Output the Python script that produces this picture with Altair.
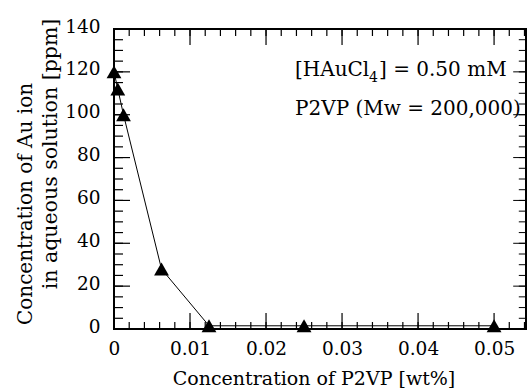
import altair as alt
import pandas as pd

# Measured gold-ion concentration vs. added polymer
p2vp_wt = [0, 0.0005, 0.00125, 0.00625, 0.0125, 0.025, 0.05]
au_ppm = [120, 112, 100, 28, 1.5, 1.5, 1.5]

x_labels = [0, 0.01, 0.02, 0.03, 0.04, 0.05]
y_labels = [0, 20, 40, 60, 80, 100, 120, 140]

# Inward tick positions for the framed axes
x_minor = [round(i * 0.002, 4) for i in range(0, 28)]
x_major = [0.01, 0.02, 0.03, 0.04, 0.05]
y_minor = [i * 5 for i in range(0, 29)]
y_major = [20, 40, 60, 80, 100, 120]

W, H = 412, 300
FONT = "DejaVu Serif"

xs = alt.Scale(domain=[0, 0.0542], nice=False, zero=False)
ys = alt.Scale(domain=[0, 140], nice=False)

df = pd.DataFrame({"c": p2vp_wt, "au": au_ppm})

x_axis = alt.Axis(values=x_labels, format="~g", ticks=False, domain=False, grid=False,
                  title=None, labelFont=FONT, labelFontSize=18.5, labelColor="black",
                  labelPadding=10, labelOverlap=False, labelFlush=False)
y_axis = alt.Axis(values=y_labels, ticks=False, domain=False, grid=False, title=None,
                  labelFont=FONT, labelFontSize=18.5, labelColor="black",
                  labelPadding=14, labelOffset=-3, labelOverlap=False, labelFlush=False)

line = alt.Chart(df).mark_line(color="black", strokeWidth=1).encode(
    x=alt.X("c:Q", scale=xs, axis=x_axis),
    y=alt.Y("au:Q", scale=ys, axis=y_axis),
)
pts = alt.Chart(df).mark_point(shape="triangle-up", filled=True, size=220,
                               color="black", opacity=1).encode(
    x=alt.X("c:Q", scale=xs),
    y=alt.Y("au:Q", scale=ys),
)

def xticks(vals, length):
    d = pd.DataFrame({"v": vals})
    bottom = alt.Chart(d).mark_rule(color="black", strokeWidth=1.2).encode(
        x=alt.X("v:Q", scale=xs), y=alt.value(H), y2=alt.value(H - length))
    top = alt.Chart(d).mark_rule(color="black", strokeWidth=1.2).encode(
        x=alt.X("v:Q", scale=xs), y=alt.value(0), y2=alt.value(length))
    return bottom + top

def yticks(vals, length):
    d = pd.DataFrame({"v": vals})
    left = alt.Chart(d).mark_rule(color="black", strokeWidth=1.2).encode(
        y=alt.Y("v:Q", scale=ys), x=alt.value(0), x2=alt.value(length))
    right = alt.Chart(d).mark_rule(color="black", strokeWidth=1).encode(
        y=alt.Y("v:Q", scale=ys), x=alt.value(W), x2=alt.value(W - length * 0.8))
    return left + right

def label(text, x, y, size, angle=0, align="left"):
    return alt.Chart(pd.DataFrame({"t": [text]})).mark_text(
        font=FONT, fontSize=size, color="black", align=align,
        baseline="alphabetic", angle=angle).encode(
        text="t:N", x=alt.value(x), y=alt.value(y))

annot = (
    label("[HAuCl", 181, 47, 20)
    + label("4", 255, 53, 14)
    + label("] = 0.50 mM", 265, 47, 20)
    + label("P2VP (Mw = 200,000)", 181, 86, 20)
)

titles = (
    label("Concentration of P2VP [wt%]", 200, 356, 19, align="center")
    + label("Concentration of Au ion", -82, 175, 20, angle=270, align="center")
    + label("in aqueous solution [ppm]", -57, 125, 20.5, angle=270, align="center")
)

chart = alt.layer(
    line, pts,
    xticks(x_minor, 7), xticks(x_major, 16),
    yticks(y_minor, 9), yticks(y_major, 16),
    annot, titles,
).properties(
    width=W, height=H,
    autosize=alt.AutoSizeParams(type="none"),
    padding={"left": 114, "top": 29, "right": 4, "bottom": 62},
).configure_view(stroke="black", strokeWidth=2)

chart.save("out.html", embed_options={"renderer": "svg", "actions": False})
